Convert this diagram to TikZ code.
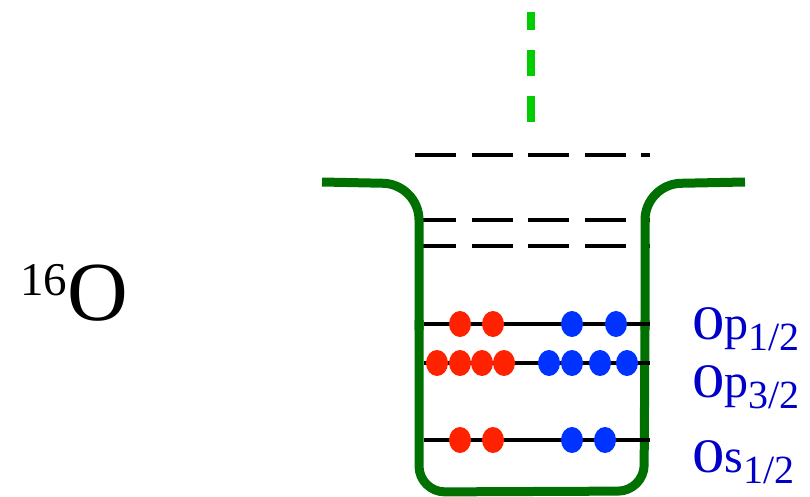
\documentclass[tikz,border=0pt]{standalone}
\usepackage{fontspec}
\usepackage{graphicx}
\setmainfont{Liberation Serif}
\definecolor{wellgreen}{RGB}{0,112,0}
\definecolor{brightgreen}{RGB}{0,204,0}
\definecolor{nred}{RGB}{255,34,0}
\definecolor{nblue}{RGB}{0,51,255}
\definecolor{lblue}{RGB}{0,0,200}
\newcommand{\shellsub}[1]{\raisebox{-11pt}{\fontsize{40}{42}\selectfont #1}}
\newcommand{\wzero}{\scalebox{1.35}[1]{0}}
\begin{document}
\begin{tikzpicture}[x=1pt,y=-1pt,
  well/.style={draw=wellgreen,line width=9pt,line join=round},
  unbound/.style={draw=black,line width=4pt,dash pattern=on 41pt off 15.5pt},
  level/.style={draw=black,line width=4pt},
  proton/.style={fill=nred},
  neutron/.style={fill=nblue},
  lbl/.style={anchor=base west,inner sep=0pt,text=lblue,font=\fontsize{48}{50}\selectfont}]
\useasboundingbox (0,0) rectangle (810,497);
% green dashed line
\draw[draw=brightgreen,line width=8pt,dash pattern=on 26pt off 20pt] (531,122) -- (531,12);
% unbound levels
\draw[unbound] (415,155) -- (650,155);
\draw[unbound] (415,220) -- (650,220);
\draw[unbound] (415,246) -- (650,246);
% well
\draw[well,rounded corners=36pt] (322,182) -- (419,184) -- (419,330);
\draw[well,rounded corners=26pt] (419,320) -- (419,492) -- (644,491) -- (645,320);
\draw[well,rounded corners=36pt] (645,330) -- (645,184) -- (745,182);
% bound levels
\draw[level] (424,324) -- (650,324);
\draw[level] (424,363) -- (650,363);
\draw[level] (424,440) -- (650,440);
% nucleons
\foreach \x in {460,493} \fill[proton] (\x,324) ellipse (11pt and 13pt);
\foreach \x in {572,616} \fill[neutron] (\x,324) ellipse (11pt and 13pt);
\foreach \x in {437,460,482,504} \fill[proton] (\x,363) ellipse (11pt and 13pt);
\foreach \x in {549,572,600,627} \fill[neutron] (\x,363) ellipse (11pt and 13pt);
\foreach \x in {460,493} \fill[proton] (\x,440) ellipse (11pt and 13pt);
\foreach \x in {572,605} \fill[neutron] (\x,440) ellipse (11pt and 13pt);
% labels
\node[lbl] (p12) at (692,339) {\wzero p\shellsub{1/2}};
\node[lbl] (p32) at (692,397) {\wzero p\shellsub{3/2}};
\node[lbl] (s12) at (692,472) {\wzero s\shellsub{1/2}};
\node[anchor=base west,inner sep=0pt] (oxy) at (20,320) {\raisebox{25pt}{\fontsize{47}{50}\selectfont 16}\fontsize{84}{88}\selectfont O};
\end{tikzpicture}
\end{document}
